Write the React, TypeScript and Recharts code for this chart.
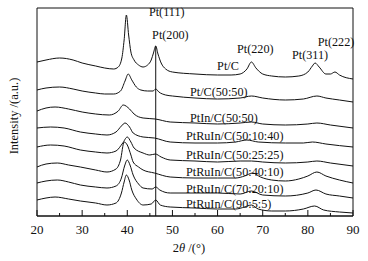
import React from 'react';
import { LineChart, Line, XAxis, YAxis, ReferenceLine, ReferenceArea, ReferenceDot } from 'recharts';

const FONT = '"Liberation Serif", "Times New Roman", serif';
const INK = '#111';

// [2θ (°), intensity (a.u., offset)], top to bottom
const ptC = [
  [20, 154], [22, 156], [25, 158], [28, 156], [30, 153], [33, 150], [35, 148], [37, 147], [38, 149],
  [38.8, 158], [39.3, 176], [39.8, 201], [40.3, 181], [40.8, 164], [41.5, 156], [42.5, 151], [43.5, 149],
  [44.5, 151], [45.3, 156], [45.8, 163], [46.3, 170], [46.8, 162], [47.5, 153], [48.5, 147], [50, 144],
  [55, 142], [60, 141], [63, 141], [65, 142], [66.5, 147], [67.5, 154], [68.5, 148], [70, 142], [72, 140],
  [75, 139], [78, 140], [80, 144], [81, 150], [81.6, 153], [82.5, 149], [84, 142], [85, 142], [86, 144],
  [87, 141], [90, 137],
];
const ptC5050 = [
  [20, 126], [22, 128], [25, 129], [28, 127], [30, 125], [33, 123], [35, 122], [37, 122], [38.5, 125],
  [39.5, 135], [40.2, 142], [41, 136], [42, 129], [43, 126], [44.5, 125], [45.7, 125], [46.3, 127],
  [47, 124], [48.5, 121], [50, 120], [55, 118], [60, 117], [65, 118], [67.5, 120], [70, 118], [75, 116],
  [79, 117], [82, 120], [84, 118], [87, 116], [90, 114],
];
const ptIn5050 = [
  [20, 105], [22, 108], [24, 109], [27, 107], [30, 104], [33, 102], [36, 101], [38, 105], [39.1, 111],
  [40.5, 107], [41.5, 102], [43.5, 98], [46.2, 97], [49.5, 94], [55, 93], [60, 92], [65, 93], [67.5, 94],
  [70, 92], [75, 91], [80, 92], [82, 93], [85, 91], [90, 88],
];
const ptRuIn501040 = [
  [20, 88], [23, 89], [26, 88], [29.6, 84], [33, 82], [35.5, 81], [37.5, 84], [38.7, 90], [39.5, 93],
  [40.5, 89], [41.3, 83], [43.5, 79], [46, 78], [49.5, 74], [55, 73], [60, 73], [64, 74], [66.5, 76],
  [69, 74], [75, 73], [79, 73], [81, 74], [84, 72], [90, 69],
];
const ptRuIn502525 = [
  [20, 69], [23, 71], [26, 70], [29.6, 66], [33, 64], [35.5, 63], [37.5, 65], [39, 73], [40, 79],
  [40.8, 74], [41.5, 68], [43.5, 63], [45, 61], [46.2, 62], [47.5, 59], [49.5, 56], [55, 55], [60, 54],
  [65, 55], [67.5, 55], [70, 54], [75, 53], [80, 54], [82, 55], [85, 53], [90, 50],
];
const ptRuIn504010 = [
  [20, 49], [22, 52], [24.5, 53], [27, 51], [29.6, 49], [33, 46], [35.5, 44], [37.5, 47], [38.5, 56],
  [39.3, 74], [40, 71], [40.8, 61], [41.3, 54], [42.5, 49], [43.5, 46], [46, 43], [49.5, 39], [55, 38],
  [60, 38], [64, 38], [66, 40], [67.8, 43], [69.5, 39], [72, 36], [75, 35], [78, 37], [80, 40], [82, 44],
  [84, 40], [87, 36], [90, 33],
];
const ptRuIn702010 = [
  [20, 33], [22, 35], [24.5, 36], [27, 34], [29.6, 31], [33, 29], [35.5, 28], [37.5, 30], [38.7, 38],
  [39.4, 50], [40, 56], [40.6, 51], [41.3, 41], [42.5, 32], [43.5, 28], [45.5, 27], [46.3, 29], [47.2, 26],
  [49.5, 23], [55, 23], [60, 23], [65, 22], [67.5, 25], [70, 21], [75, 20], [80, 23], [81.8, 26], [84, 22],
  [87, 20], [90, 18],
];
const ptRuIn9055 = [
  [20, 16], [22, 18], [24, 19], [27, 17], [29.6, 15], [33, 13], [35.5, 11], [37.5, 13], [38.7, 23],
  [39.3, 34], [39.8, 41], [40.4, 36], [41, 26], [42, 17], [43.5, 11], [45.3, 12], [46.3, 16], [47.3, 11],
  [49.5, 9], [55, 8], [60, 7], [64, 7], [66, 9], [67.5, 11], [69, 7], [72, 5], [75, 5], [79, 7],
  [81.5, 10], [83.5, 6], [87, 4], [90, 3],
];

const series = [ptC, ptC5050, ptIn5050, ptRuIn501040, ptRuIn502525, ptRuIn504010, ptRuIn702010, ptRuIn9055];

const xTicks = [20, 25, 30, 35, 40, 45, 50, 55, 60, 65, 70, 75, 80, 85, 90];

// peak / sample annotations: text, 2θ, intensity at text baseline
const labels: [string, number, number][] = [
  ['Pt(111)', 44.8, 200],
  ['Pt(200)', 45.5, 177],
  ['Pt(220)', 64.3, 163],
  ['Pt(311)', 76.5, 157],
  ['Pt(222)', 82.2, 170],
  ['Pt/C', 59.9, 146],
  ['Pt/C(50:50)', 53.9, 120],
  ['PtIn/C(50:50)', 53.9, 94],
  ['PtRuIn/C(50:10:40)', 53.0, 76],
  ['PtRuIn/C(50:25:25)', 53.0, 57],
  ['PtRuIn/C(50:40:10)', 53.0, 40],
  ['PtRuIn/C(70:20:10)', 53.0, 23],
  ['PtRuIn/C(90:5:5)', 53.0, 8],
];

const toPoints = (s: number[][]) => s.map(([x, y]) => ({ x, y }));

const XTick = ({ x, y, payload }: any) => {
  const major = payload.value % 10 === 0;
  return (
    <g>
      <line x1={x} x2={x} y1={y} y2={y - (major ? 6 : 3)} stroke={INK} />
      {major && (
        <text x={x} y={y + 18} textAnchor="middle" fontSize={13} fontFamily={FONT} fill={INK}>
          {payload.value}
        </text>
      )}
    </g>
  );
};

const XTitle = ({ viewBox }: any) => (
  <text x={viewBox.x + 152} y={viewBox.y + 36} textAnchor="middle" fontSize={12.5} fontFamily={FONT} fill={INK}>
    <tspan>2</tspan>
    <tspan fontStyle="italic">θ</tspan>
    <tspan> /(°)</tspan>
  </text>
);

const YTitle = () => (
  <text
    x={14}
    y={116}
    transform="rotate(-90, 14, 116)"
    textAnchor="middle"
    dominantBaseline="central"
    fontSize={12.5}
    fontFamily={FONT}
    fill={INK}
  >
    Intensity /(a.u.)
  </text>
);

const App = () => {
  return (
    <div style={{ position: 'absolute', left: 0, top: 0, background: '#fff' }}>
      <LineChart width={368} height={261} margin={{ top: 8, right: 15, left: 0, bottom: 0 }}>
        <XAxis
          type="number"
          dataKey="x"
          domain={[20, 90]}
          ticks={xTicks}
          interval={0}
          height={45}
          tickSize={0}
          tickMargin={0}
          tickLine={false}
          axisLine={{ stroke: INK }}
          tick={<XTick />}
          label={XTitle}
          allowDataOverflow
        />
        <YAxis
          type="number"
          domain={[0, 208]}
          width={37}
          tick={false}
          tickLine={false}
          axisLine={false}
          label={YTitle}
          allowDataOverflow
        />
        <ReferenceArea x1={20} x2={90} y1={0} y2={208} fill="none" stroke={INK} strokeWidth={1} ifOverflow="visible" />
        <ReferenceLine segment={[{ x: 46.3, y: 0 }, { x: 46.3, y: 170 }]} stroke={INK} strokeWidth={1} />
        {series.map((s, i) => (
          <Line
            key={i}
            data={toPoints(s)}
            dataKey="y"
            type="monotone"
            stroke={INK}
            strokeWidth={1}
            dot={false}
            activeDot={false}
            isAnimationActive={false}
          />
        ))}
        {labels.map(([text, x, y]) => (
          <ReferenceDot
            key={text}
            x={x}
            y={y}
            r={0}
            fill="none"
            stroke="none"
            ifOverflow="visible"
            label={(p: any) => (
              <text x={p.viewBox.x} y={p.viewBox.y} fontSize={12.2} fontFamily={FONT} fill={INK}>
                {text}
              </text>
            )}
          />
        ))}
      </LineChart>
    </div>
  );
};

export default App;
